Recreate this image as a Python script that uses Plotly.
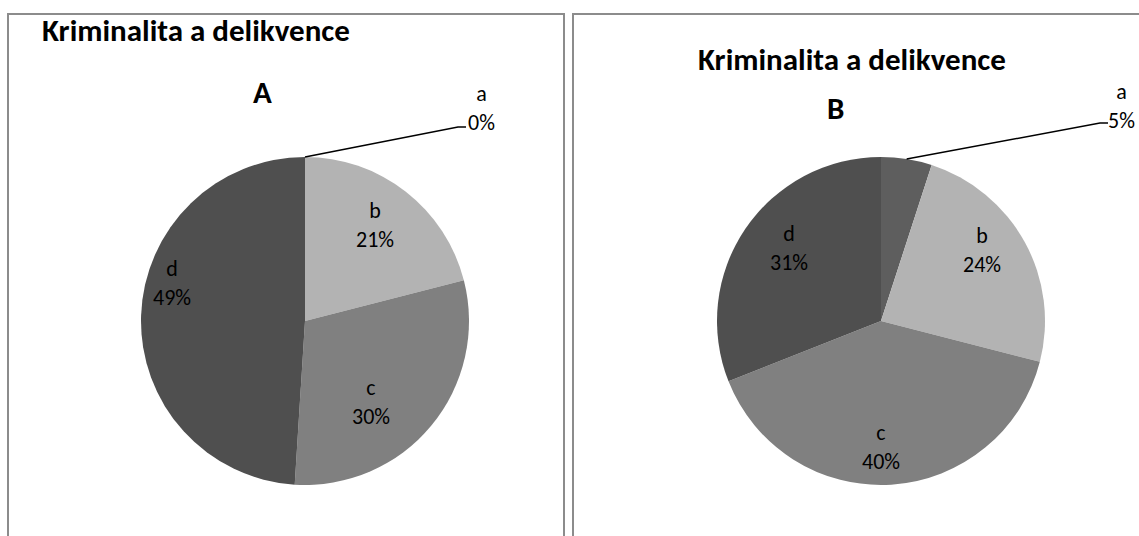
import math
import plotly.graph_objects as go

# Data
categories = ["a", "b", "c", "d"]
values_a = [0, 21, 30, 49]
values_b = [5, 24, 40, 31]
slice_colors = ["#5e5e5e", "#b3b3b3", "#808080", "#4f4f4f"]
title_text = "Kriminalita a delikvence"
panel_names = ["A", "B"]

W, H = 1139, 536
FONT = "Calibri, Carlito, Lato, sans-serif"
LABEL_SIZE = 22
TITLE_SIZE = 31


def fx(x):
    return x / W


def fy(y):
    return 1 - y / H


# pie geometry and label anchors (pixels)
pies = [
    dict(values=values_a, cx=305, cy=321, r=164,
         title_x=196, title_y=30, sub_x=262, sub_y=92,
         elbow=(458, 127), stub=8, lab_a=(481, 108),
         lab={"b": (375, 225), "c": (371, 402), "d": (172, 283)}),
    dict(values=values_b, cx=881, cy=321, r=164,
         title_x=852, title_y=59, sub_x=835, sub_y=108,
         elbow=(1100, 123), stub=8, lab_a=(1121, 106),
         lab={"b": (982, 250), "c": (881, 447), "d": (789, 248)}),
]

fig = go.Figure()
annotations = []
shapes = []

# panel frames
for x0, x1 in [(8, 564), (573, 1150)]:
    shapes.append(dict(type="rect", xref="paper", yref="paper",
                       x0=fx(x0), x1=fx(x1), y0=fy(560), y1=fy(14),
                       line=dict(color="#8c8c8c", width=2)))


def add_label(x, y, text):
    annotations.append(dict(
        x=fx(x), y=fy(y), xref="paper", yref="paper",
        text=text, showarrow=False, xanchor="center", yanchor="middle",
        font=dict(family=FONT, size=LABEL_SIZE, color="black")))


for p, name in zip(pies, panel_names):
    vals = p["values"]
    total = sum(vals)
    fig.add_trace(go.Pie(
        labels=categories, values=vals, sort=False, direction="clockwise",
        rotation=0, textinfo="none", hoverinfo="label+percent",
        marker=dict(colors=slice_colors, line=dict(width=0)),
        domain=dict(x=[fx(p["cx"] - p["r"]), fx(p["cx"] + p["r"])],
                    y=[fy(p["cy"] + p["r"]), fy(p["cy"] - p["r"])]),
        showlegend=False,
    ))

    cum = 0
    for cat, v in zip(categories, vals):
        mid = (cum + v / 2) / total * 2 * math.pi
        cum += v
        pct = f"{round(v / total * 100)}%"
        if cat == "a":
            # outside label joined to the slice by a leader line
            ex = p["cx"] + p["r"] * math.sin(mid)
            ey = p["cy"] - p["r"] * math.cos(mid)
            bx, by = p["elbow"]
            shapes.append(dict(
                type="path", xref="paper", yref="paper",
                path=f"M {fx(ex)},{fy(ey)} L {fx(bx)},{fy(by)} L {fx(bx + p['stub'])},{fy(by)}",
                line=dict(color="black", width=1.5)))
            add_label(*p["lab_a"], f"{cat}<br>{pct}")
        else:
            add_label(*p["lab"][cat], f"{cat}<br>{pct}")

    annotations.append(dict(
        x=fx(p["title_x"]), y=fy(p["title_y"]), xref="paper", yref="paper",
        text=f"<b>{title_text}</b>", showarrow=False, xanchor="center", yanchor="middle",
        font=dict(family=FONT, size=TITLE_SIZE, color="black")))
    annotations.append(dict(
        x=fx(p["sub_x"]), y=fy(p["sub_y"]), xref="paper", yref="paper",
        text=f"<b>{name}</b>", showarrow=False, xanchor="center", yanchor="middle",
        font=dict(family=FONT, size=TITLE_SIZE, color="black")))

fig.update_layout(
    width=W, height=H, margin=dict(l=0, r=0, t=0, b=0),
    paper_bgcolor="white", plot_bgcolor="white",
    annotations=annotations, shapes=shapes,
)

fig.write_html("out.html")
